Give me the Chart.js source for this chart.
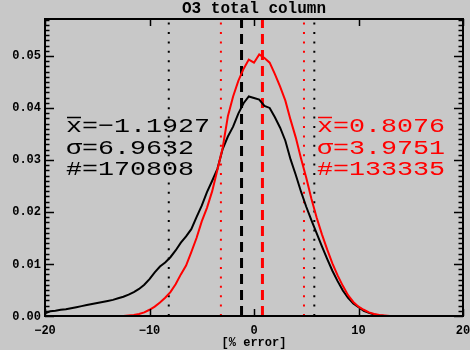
<!DOCTYPE html>
<html>
<head>
<meta charset="utf-8">
<script src="https://cdn.jsdelivr.net/npm/chart.js@4/dist/chart.umd.min.js"></script>
<style>
html,body{margin:0;padding:0;background:#c8c8c8;}
canvas{display:block;}
</style>
</head>
<body>
<canvas id="c" width="470" height="350"></canvas>
<script>
const chartTitle = "O3 total column";
const xAxisTitle = "[% error]";
const xTickValues = [-20, -10, 0, 10, 20];
const xTickLabels = ["\u221220", "\u221210", "0", "10", "20"];
const yTickValues = [0.00, 0.01, 0.02, 0.03, 0.04, 0.05];
const yTickLabels = ["0.00", "0.01", "0.02", "0.03", "0.04", "0.05"];
const xRange = [-20, 20];
const yRange = [0, 0.0571];

const xValues = [-20,-19.5,-19,-18.5,-18,-17.5,-17,-16.5,-16,-15.5,-15,-14.5,-14,-13.5,-13,-12.5,-12,-11.5,-11,-10.5,-10,-9.5,-9,-8.5,-8,-7.5,-7,-6.5,-6,-5.5,-5,-4.5,-4,-3.5,-3,-2.5,-2,-1.5,-1,-0.5,0,0.5,1,1.5,2,2.5,3,3.5,4,4.5,5,5.5,6,6.5,7,7.5,8,8.5,9,9.5,10,10.5,11,11.5,12,12.5,13,13.5,14,14.5,15,15.5,16,16.5,17,17.5,18,18.5,19,19.5,20];

const blackValues = [0.0005,0.0009,0.0010,0.0012,0.0013,0.0015,0.0017,0.0019,0.0021,0.0023,0.0025,0.0027,0.0029,0.0031,0.0034,0.0037,0.0041,0.0046,0.0052,0.0060,0.0071,0.0084,0.0095,0.0103,0.0113,0.0126,0.0141,0.0153,0.0167,0.0190,0.0212,0.0238,0.0260,0.0283,0.0321,0.0345,0.0364,0.0389,0.0409,0.0422,0.0419,0.0416,0.0404,0.0400,0.0382,0.0362,0.0337,0.0301,0.0271,0.0239,0.0210,0.0184,0.0159,0.0134,0.0110,0.0087,0.0067,0.0049,0.0035,0.0024,0.0017,0.0010,0.0006,0.0003,0.0001,0,0,0,0,0,0,0,0,0,0,0,0,0,0,0,0];

const redValues = [0,0,0,0,0,0,0,0,0,0,0,0,0,0,0,0,0.0001,0.0002,0.0004,0.0007,0.0012,0.0018,0.0026,0.0035,0.0046,0.0061,0.0080,0.0097,0.0123,0.0150,0.0182,0.0208,0.0240,0.0281,0.0323,0.0384,0.0422,0.0452,0.0475,0.0493,0.0487,0.0503,0.0496,0.0487,0.0465,0.0441,0.0414,0.0377,0.0343,0.0303,0.0266,0.0225,0.0189,0.0157,0.0128,0.0101,0.0078,0.0058,0.0040,0.0027,0.0018,0.0012,0.0007,0.0004,0.0002,0.0001,0,0,0,0,0,0,0,0,0,0,0,0,0,0,0];

const seriesColors = ["#000000", "#ff0000"];
const seriesMeans = [-1.1927, 0.8076];
const seriesSigmas = [6.9632, 3.9751];
const seriesCounts = ["170808", "133335"];

const curveData = [blackValues, redValues];
const datasets = [];
[1, 0].forEach((s, k) => {
  datasets.push({
    data: xValues.map((x, i) => ({x: x, y: curveData[s][i]})),
    borderColor: seriesColors[s],
    borderWidth: 2,
    pointRadius: 0,
    tension: 0,
    fill: false,
    order: k
  });
});
[0, 1].forEach(s => {
  const m = seriesMeans[s], sd = seriesSigmas[s];
  datasets.push({
    data: [{x: m, y: yRange[0]}, {x: m, y: yRange[1]}],
    borderColor: seriesColors[s], borderWidth: 3, borderDash: [10, 6],
    pointRadius: 0, fill: false, order: 5
  });
  [m - sd, m + sd].forEach(v => {
    datasets.push({
      data: [{x: v, y: yRange[0]}, {x: v, y: yRange[1]}],
      borderColor: seriesColors[s], borderWidth: 2, borderDash: [2, 7.4],
      pointRadius: 0, fill: false, order: 5
    });
  });
});

function wideText(ctx, txt, x, y, sx) {
  ctx.save();
  ctx.translate(x, y);
  ctx.scale(sx, 1);
  ctx.fillText(txt, 0, 0);
  const w = ctx.measureText(txt).width * sx;
  ctx.restore();
  return w;
}

const decor = {
  id: 'decor',
  beforeDraw(chart) {
    const ctx = chart.ctx;
    ctx.save();
    ctx.fillStyle = '#c8c8c8';
    ctx.fillRect(0, 0, chart.width, chart.height);
    ctx.restore();
  },
  afterDraw(chart) {
    const ctx = chart.ctx;
    const a = chart.chartArea;
    const xs = chart.scales.x, ys = chart.scales.y;
    ctx.save();
    ctx.strokeStyle = '#000';
    ctx.lineWidth = 2;
    ctx.strokeRect(a.left, a.top, a.right - a.left, a.bottom - a.top);
    ctx.lineWidth = 1.5;
    ctx.beginPath();
    for (let k = 0; k * 0.001 <= yRange[1] + 1e-9; k++) {
      const py = Math.round(ys.getPixelForValue(k * 0.001)) + 0.5;
      const len = (k % 10 === 0) ? 9 : 4.5;
      ctx.moveTo(a.left, py); ctx.lineTo(a.left + len, py);
      ctx.moveTo(a.right, py); ctx.lineTo(a.right - len, py);
    }
    xTickValues.forEach(v => {
      const px = Math.round(xs.getPixelForValue(v)) + 0.5;
      ctx.moveTo(px, a.bottom); ctx.lineTo(px, a.bottom - 7);
      ctx.moveTo(px, a.top); ctx.lineTo(px, a.top + 7);
    });
    ctx.stroke();

    ctx.fillStyle = '#000';
    ctx.font = 'bold 12px "Liberation Mono"';
    ctx.textBaseline = 'middle';
    ctx.textAlign = 'right';
    yTickValues.forEach((v, i) => {
      ctx.fillText(yTickLabels[i], 41, ys.getPixelForValue(v) + 0.5);
    });
    ctx.textAlign = 'center';
    xTickValues.forEach((v, i) => {
      ctx.fillText(xTickLabels[i], xs.getPixelForValue(v), 331);
    });
    ctx.fillText(xAxisTitle, (a.left + a.right) / 2, 343);
    ctx.font = 'bold 16px "Liberation Mono"';
    ctx.fillText(chartTitle, (a.left + a.right) / 2, 8.5);

    ctx.textAlign = 'left';
    ctx.textBaseline = 'alphabetic';
    ctx.font = '21px "Liberation Mono"';
    const sx = 1.27;
    const startX = [66, 317];
    const baseY = [132, 153.5, 175];
    [0, 1].forEach(s => {
      ctx.fillStyle = seriesColors[s];
      ctx.strokeStyle = seriesColors[s];
      const x0 = startX[s];
      const wx = wideText(ctx, 'x', x0, baseY[0], sx);
      ctx.lineWidth = 1.5;
      ctx.beginPath();
      ctx.moveTo(x0 + 1, baseY[0] - 14.5);
      ctx.lineTo(x0 + wx - 1, baseY[0] - 14.5);
      ctx.stroke();
      const meanStr = '=' + (seriesMeans[s] < 0 ? '\u2212' + Math.abs(seriesMeans[s]).toFixed(4) : seriesMeans[s].toFixed(4));
      wideText(ctx, meanStr, x0 + wx, baseY[0], sx);
      wideText(ctx, '\u03c3=' + seriesSigmas[s].toFixed(4), x0, baseY[1], sx);
      wideText(ctx, '#=' + seriesCounts[s], x0, baseY[2], sx);
    });
    ctx.restore();
  }
};

new Chart(document.getElementById('c'), {
  type: 'line',
  data: { datasets: datasets },
  options: {
    responsive: false,
    animation: false,
    devicePixelRatio: 1,
    parsing: true,
    layout: { padding: { left: 45, right: 7, top: 19, bottom: 34 } },
    scales: {
      x: { type: 'linear', min: xRange[0], max: xRange[1], display: false },
      y: { type: 'linear', min: yRange[0], max: yRange[1], display: false }
    },
    plugins: { legend: { display: false }, tooltip: { enabled: false }, title: { display: false } }
  },
  plugins: [decor]
});
</script>
</body>
</html>
